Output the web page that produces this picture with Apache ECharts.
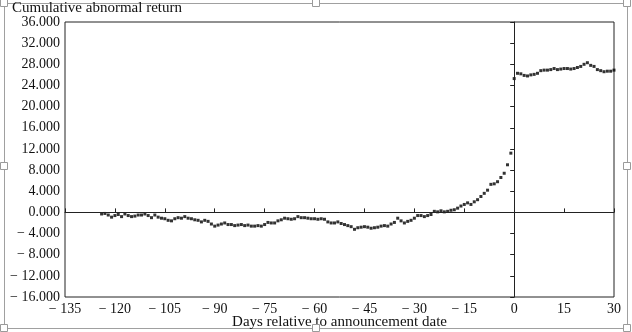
<!DOCTYPE html>
<html>
<head>
<meta charset="utf-8">
<script src="https://cdn.jsdelivr.net/npm/echarts@6/dist/echarts.min.js"></script>
<style>html,body{margin:0;padding:0;background:#fff}#c{width:632px;height:332px}</style>
</head>
<body>
<div id="c"></div>
<script>
// Days relative to announcement date
var preDays = [];
for (var d = -124; d <= -1; d++) preDays.push(d);
var preValues = [
  -0.3, -0.2, -0.5, -0.9, -0.6, -0.4, -0.8, -0.3, -0.6, -0.8,
  -0.7, -0.5, -0.5, -0.3, -0.6, -1.0, -0.5, -0.9, -1.1, -1.2,
  -1.5, -1.6, -1.2, -1.0, -1.1, -0.8, -1.1, -1.2, -1.4, -1.5,
  -1.8, -1.5, -1.7, -2.2, -2.6, -2.4, -2.2, -2.0, -2.3, -2.3,
  -2.5, -2.4, -2.3, -2.5, -2.4, -2.6, -2.6, -2.5, -2.6, -2.3,
  -1.9, -2.0, -2.0, -1.6, -1.4, -1.1, -1.2, -1.3, -1.2, -0.8,
  -1.0, -1.0, -1.1, -1.2, -1.2, -1.3, -1.2, -1.3, -1.8, -2.0,
  -2.0, -1.8, -2.1, -2.3, -2.5, -2.7, -3.2, -2.9, -2.8, -2.7,
  -2.8, -3.0, -2.9, -2.8, -2.6, -2.5, -2.6, -2.2, -1.9, -1.1,
  -1.6, -2.0, -1.7, -1.5, -1.1, -0.6, -0.6, -0.8, -0.6, -0.4,
  0.2, 0.1, 0.3, 0.1, 0.2, 0.4, 0.5, 0.8, 1.2, 1.5,
  1.8, 1.5, 2.0, 2.4, 3.0, 3.6, 4.2, 5.3, 5.4, 5.8,
  6.6, 7.4, 9.0, 11.2
];
var postDays = [];
for (var e = 0; e <= 30; e++) postDays.push(e);
var postValues = [
  25.3, 26.3, 26.2, 25.9, 25.8, 26.0, 26.1, 26.3, 26.8, 26.9,
  26.9, 27.0, 27.2, 27.0, 27.1, 27.2, 27.2, 27.1, 27.2, 27.4,
  27.6, 28.0, 28.3, 27.8, 27.6, 27.0, 26.8, 26.6, 26.7, 26.7,
  26.9
];
var xTicks = [-135, -120, -105, -90, -75, -60, -45, -30, -15, 0, 15, 30];
var yTicks = [-16, -12, -8, -4, 0, 4, 8, 12, 16, 20, 24, 28, 32, 36];

var points = [];
preDays.forEach(function (d, i) { points.push([d, preValues[i]]); });
postDays.forEach(function (d, i) { points.push([d, postValues[i]]); });

var font = '"Liberation Serif", "DejaVu Serif", serif';
var chart = echarts.init(document.getElementById('c'), null, {renderer: 'canvas'});

var handles = [[4,3],[316,3],[627,3],[4,166],[627,166],[4,328],[316,328],[627,328]];
var graphics = [{
  type: 'rect', shape: {x: 4.5, y: 3.5, width: 623, height: 325},
  style: {fill: 'none', stroke: '#a0a0a0', lineWidth: 1}, z: 0
}];
handles.forEach(function (h) {
  graphics.push({type: 'rect', shape: {x: h[0] - 3.5, y: h[1] - 3.5, width: 7, height: 7},
    style: {fill: '#fff', stroke: '#9a9a9a', lineWidth: 1}, z: 10});
});
graphics.push({type: 'text', left: 12, top: 1,
  style: {text: 'Cumulative abnormal return', font: '15px ' + font, fill: '#111'}, z: 5});

chart.setOption({
  animation: false,
  backgroundColor: '#fff',
  graphic: graphics,
  grid: {left: 65, right: 18, top: 22, bottom: 35, show: true, borderColor: '#222', borderWidth: 1,
    containLabel: false, outerBoundsMode: 'none'},
  xAxis: {
    type: 'value', min: xTicks[0], max: xTicks[xTicks.length - 1], interval: 15,
    name: 'Days relative to announcement date', nameLocation: 'middle', nameGap: 18,
    nameMoveOverlap: false,
    nameTextStyle: {fontFamily: font, fontSize: 15, color: '#111'},
    axisLine: {lineStyle: {color: '#222', width: 1}},
    axisTick: {inside: true, length: 4, lineStyle: {color: '#222'}},
    axisLabel: {fontFamily: font, fontSize: 14, color: '#111', margin: 5,
      formatter: function (v) { return v < 0 ? '\u2212 ' + Math.abs(v) : String(v); }},
    splitLine: {show: false}
  },
  yAxis: {
    type: 'value', min: yTicks[0], max: yTicks[yTicks.length - 1], interval: 4,
    axisLine: {show: true, lineStyle: {color: '#222', width: 1}},
    axisTick: {show: true, inside: false, length: 4, lineStyle: {color: '#222'}},
    axisLabel: {fontFamily: font, fontSize: 14, color: '#111', margin: 5,
      formatter: function (v) { return v < 0 ? '\u2212 ' + Math.abs(v).toFixed(3) : v.toFixed(3); }},
    splitLine: {show: false}
  },
  series: [{
    type: 'scatter', data: points, symbol: 'rect', symbolSize: 3,
    itemStyle: {color: '#000'},
    markLine: {
      silent: true, symbol: 'none', label: {show: false},
      lineStyle: {color: '#222', width: 1, type: 'solid'},
      data: [{yAxis: 0}, {xAxis: 0}]
    }
  }]
});
</script>
</body>
</html>
